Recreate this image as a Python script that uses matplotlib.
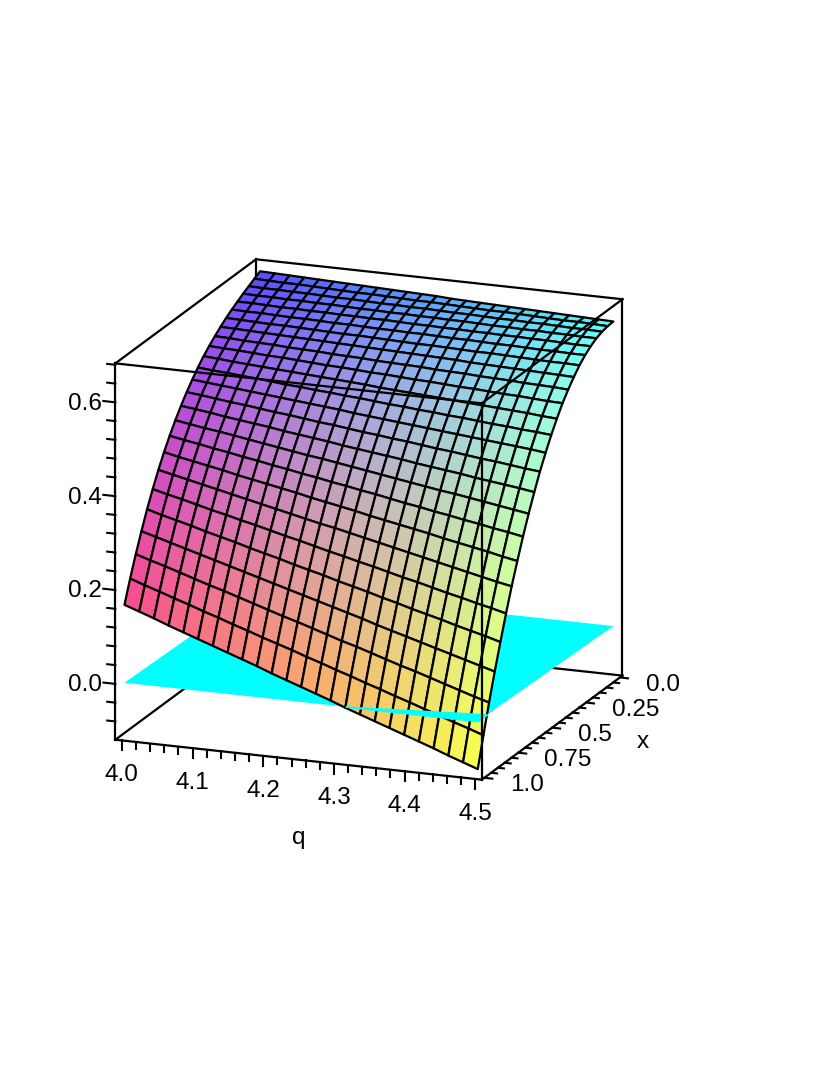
import numpy as np
import matplotlib
matplotlib.use("Agg")
import matplotlib.pyplot as plt
from mpl_toolkits.mplot3d import proj3d
from mpl_toolkits.mplot3d.art3d import Poly3DCollection

plt.rcParams['font.family'] = ['Liberation Sans', 'DejaVu Sans']

# grid of the surface, 25 x 25 points
q_vals = [4.0 + j * 0.5 / 24 for j in range(25)]
x_vals = [i / 24 for i in range(25)]

# surface height, one row per x value, one column per q value
z_rows = [
    [.663, .662, .661, .660, .659, .658, .657, .656, .655, .654, .653, .652, .651, .649, .648, .647, .646, .645, .644, .643, .642, .641, .640, .639, .638],
    [.656, .655, .654, .654, .653, .652, .651, .650, .650, .649, .648, .647, .647, .646, .645, .644, .643, .643, .642, .641, .640, .639, .639, .638, .637],
    [.649, .648, .648, .647, .647, .646, .645, .645, .644, .643, .643, .642, .642, .641, .640, .640, .639, .638, .638, .637, .637, .636, .635, .635, .634],
    [.642, .641, .641, .640, .640, .639, .639, .638, .637, .637, .636, .636, .635, .635, .634, .634, .633, .632, .632, .631, .631, .630, .630, .629, .629],
    [.634, .634, .633, .632, .632, .631, .631, .630, .630, .629, .629, .628, .627, .627, .626, .626, .625, .625, .624, .624, .623, .623, .622, .621, .621],
    [.626, .625, .625, .624, .623, .623, .622, .621, .621, .620, .619, .619, .618, .618, .617, .616, .616, .615, .614, .614, .613, .612, .612, .611, .611],
    [.617, .616, .615, .614, .614, .613, .612, .611, .610, .610, .609, .608, .607, .606, .606, .605, .604, .603, .603, .602, .601, .600, .599, .599, .598],
    [.607, .606, .605, .604, .603, .602, .601, .600, .599, .598, .597, .596, .595, .594, .593, .592, .591, .589, .588, .587, .586, .585, .584, .583, .582],
    [.596, .595, .593, .592, .591, .589, .588, .587, .585, .584, .583, .581, .580, .579, .578, .576, .575, .574, .572, .571, .570, .568, .567, .566, .564],
    [.584, .582, .581, .579, .577, .576, .574, .572, .570, .569, .567, .565, .564, .562, .560, .559, .557, .555, .554, .552, .550, .549, .547, .545, .544],
    [.571, .569, .566, .564, .562, .560, .558, .556, .554, .552, .550, .548, .545, .543, .541, .539, .537, .535, .533, .531, .529, .527, .525, .522, .520],
    [.556, .553, .551, .548, .546, .543, .540, .538, .535, .533, .530, .528, .525, .522, .520, .517, .515, .512, .510, .507, .504, .502, .499, .497, .494],
    [.539, .536, .533, .530, .527, .524, .521, .518, .515, .512, .509, .505, .502, .499, .496, .493, .490, .487, .484, .481, .478, .475, .472, .469, .465],
    [.521, .518, .514, .510, .507, .503, .499, .496, .492, .488, .485, .481, .477, .474, .470, .467, .463, .459, .456, .452, .448, .445, .441, .437, .434],
    [.501, .497, .493, .488, .484, .480, .476, .471, .467, .463, .459, .454, .450, .446, .442, .438, .433, .429, .425, .421, .416, .412, .408, .404, .399],
    [.479, .474, .469, .465, .460, .455, .450, .445, .440, .435, .431, .426, .421, .416, .411, .406, .401, .396, .391, .387, .382, .377, .372, .367, .362],
    [.455, .449, .444, .438, .433, .427, .422, .416, .411, .405, .400, .394, .389, .383, .378, .372, .366, .361, .355, .350, .344, .339, .333, .328, .322],
    [.429, .422, .416, .410, .404, .397, .391, .385, .379, .373, .366, .360, .354, .348, .341, .335, .329, .323, .317, .310, .304, .298, .292, .285, .279],
    [.400, .393, .386, .379, .372, .365, .358, .351, .344, .337, .330, .323, .317, .310, .303, .296, .289, .282, .275, .268, .261, .254, .247, .240, .234],
    [.368, .360, .353, .345, .337, .330, .322, .315, .307, .299, .292, .284, .276, .269, .261, .254, .246, .238, .231, .223, .215, .208, .200, .193, .185],
    [.334, .325, .317, .309, .300, .292, .284, .275, .267, .259, .250, .242, .234, .225, .217, .209, .200, .192, .183, .175, .167, .158, .150, .142, .133],
    [.296, .287, .278, .269, .260, .251, .242, .233, .224, .215, .206, .197, .188, .179, .170, .161, .151, .142, .133, .124, .115, .106, .097, .088, .079],
    [.256, .246, .237, .227, .217, .207, .198, .188, .178, .168, .158, .149, .139, .129, .119, .110, .100, .090, .080, .071, .061, .051, .041, .031, .022],
    [.213, .202, .192, .181, .171, .160, .150, .139, .129, .118, .108, .098, .087, .077, .066, .056, .045, .035, .024, .014, .003, -.007, -.018, -.028, -.039],
    [.166, .155, .144, .132, .121, .110, .099, .088, .077, .066, .054, .043, .032, .021, .010, -.002, -.013, -.024, -.035, -.046, -.057, -.068, -.080, -.091, -.102],
]

# the flat sheet, its far side sits a little low in the picture
plane_q = [4.0, 4.5]
plane_x = [0.0, 1.0]
plane_z = [[-0.011, -0.011], [0.0, 0.0]]

# axis ranges and ticks
q_range = (3.9907, 4.5093)
x_range = (1.0187, -0.0187)
z_range = (-0.119, 0.683)
q_major = [4.0, 4.1, 4.2, 4.3, 4.4, 4.5]
q_minor = [4.02, 4.04, 4.06, 4.08, 4.12, 4.14, 4.16, 4.18, 4.22, 4.24, 4.26, 4.28,
           4.32, 4.34, 4.36, 4.38, 4.42, 4.44, 4.46, 4.48]
x_major = [0.0, 0.25, 0.5, 0.75, 1.0]
x_minor = [0.05, 0.1, 0.15, 0.2, 0.3, 0.35, 0.4, 0.45, 0.55, 0.6, 0.65, 0.7, 0.8, 0.85, 0.9, 0.95]
x_labels = ["0.0", "0.25", "0.5", "0.75", "1.0"]
z_major = [0.0, 0.2, 0.4, 0.6]
z_minor = [-0.08, -0.04, 0.04, 0.08, 0.12, 0.16, 0.24, 0.28, 0.32, 0.36, 0.44, 0.48,
           0.52, 0.56, 0.64, 0.68]

W, H = 830, 1075
fig = plt.figure(figsize=(W / 100, H / 100), dpi=100)
ax = fig.add_axes([30 / W, 216.6 / H, 660 / W, 660 / H], projection='3d', computed_zorder=False)
ax.set_proj_type('ortho')
ax.view_init(elev=16.5, azim=-69)
ax.set_box_aspect((1, 1, 1))
ax.set_xlim(*q_range)
ax.set_ylim(*x_range)
ax.set_zlim(*z_range)
ax.set_axis_off()

Q, X = np.meshgrid(q_vals, x_vals)
Z = np.array(z_rows)

# colour runs with the coordinates: red on x, green on q, blue on height
R_c = 0.33 + 0.65 * X
G_c = 0.30 + 0.70 * (Q - 4.0) / 0.5
B_c = 0.30 + 0.92 * (Z + 0.102)
colours = np.clip(np.dstack([R_c, G_c, B_c]), 0, 1)
cell_colours = (colours[:-1, :-1] + colours[1:, 1:] + colours[1:, :-1] + colours[:-1, 1:]) / 4


def box_line(a, b, zorder):
    ax.plot([a[0], b[0]], [a[1], b[1]], [a[2], b[2]], color='black', lw=1.6, zorder=zorder,
            solid_capstyle='projecting')


def label(q, x, z, s, ha):
    # 2D text at the projected spot of a 3D point
    sx, sy, _ = proj3d.proj_transform(q, x, z, ax.get_proj())
    ax.text2D(sx, sy, s, transform=ax.transData, ha=ha, va='center', fontsize=17.5, zorder=6)


q0, q1 = q_range
x0, x1 = x_range   # x0 is the front side
z0, z1 = z_range

# back edges, hidden by the sheet and the surface
box_line((q0, x1, z0), (q0, x1, z1), 1)
box_line((q0, x1, z1), (q1, x1, z1), 1)
box_line((q0, x0, z0), (q0, x1, z0), 1)
box_line((q0, x1, z0), (q1, x1, z0), 1)
box_line((q1, x1, z0), (q1, x1, z1), 1)
box_line((q0, x0, z1), (q0, x1, z1), 1)

PX, PY = np.meshgrid(plane_q, plane_x)
ax.plot_surface(PX, PY, np.array(plane_z), color=(0, 1, 1), shade=False, linewidth=0, zorder=2)

ax.plot_surface(Q, X, Z, rstride=1, cstride=1, facecolors=cell_colours, shade=False,
                edgecolor='black', linewidth=1.6, zorder=3)

# the corner of the sheet that lies above the surface
neg = [j for j in range(25) if Z[24, j] < 0]
verts = [(q_vals[j], float(np.interp(0, Z[::-1, j], np.array(x_vals)[::-1])), 0.0) for j in neg]
verts.append((q_vals[-1], 1.0, 0.0))
ax.add_collection3d(Poly3DCollection([verts], facecolors=(0, 1, 1), edgecolors=(0, 1, 1),
                                     linewidths=1.0, zorder=4))

# front edges, drawn over everything
box_line((q0, x0, z0), (q1, x0, z0), 5)
box_line((q0, x0, z0), (q0, x0, z1), 5)
box_line((q0, x0, z1), (q1, x0, z1), 5)
box_line((q1, x0, z0), (q1, x0, z1), 5)
box_line((q1, x0, z0), (q1, x1, z0), 5)
box_line((q1, x0, z1), (q1, x1, z1), 5)

# ticks
for v in q_major:
    ax.plot([v, v], [x0, x0], [z0, z0 - 0.0213], color='black', lw=1.5, zorder=5)
for v in q_minor:
    ax.plot([v, v], [x0, x0], [z0, z0 - 0.0149], color='black', lw=1.5, zorder=5)
for v in z_major:
    ax.plot([q0, q0 - 0.0170], [x0, x0], [v, v], color='black', lw=1.5, zorder=5)
for v in z_minor:
    ax.plot([q0, q0 - 0.0115], [x0, x0], [v, v], color='black', lw=1.5, zorder=5)
for v in x_major:
    ax.plot([q1, q1 + 0.0113], [v, v], [z0, z0], color='black', lw=1.5, zorder=5)
for v in x_minor:
    ax.plot([q1, q1 + 0.0085], [v, v], [z0, z0], color='black', lw=1.5, zorder=5)

# labels
for v in q_major:
    label(v, x0, z0 - 0.074, "%.1f" % v, 'center')
for v, s in zip(x_major, x_labels):
    label(q1 + 0.0368, v, z0 - 0.010, s, 'left')
for v in z_major:
    label(q0 - 0.0184, x0, v - 0.006, "%.1f" % v, 'right')
label(4.2500, x0, z0 - 0.166, "q", 'center')
label(q1 + 0.1077, 0.396, z0 - 0.035, "x", 'center')

fig.savefig("out.png", dpi=100)
